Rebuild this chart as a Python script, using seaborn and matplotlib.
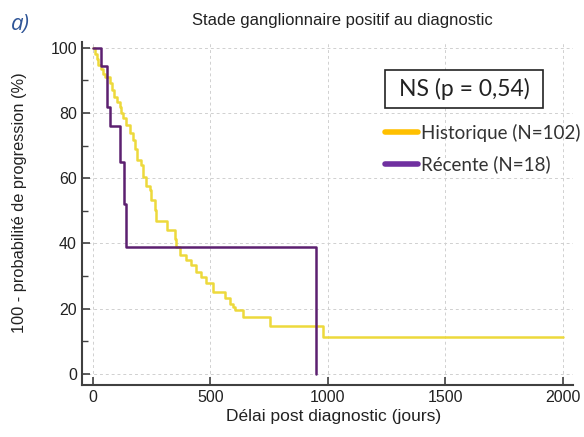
import numpy as np
import pandas as pd
import matplotlib
matplotlib.use("Agg")
import matplotlib.pyplot as plt
import seaborn as sns
from matplotlib.lines import Line2D
from matplotlib.patches import Rectangle
from matplotlib.ticker import MultipleLocator

# Kaplan-Meier steps (time in days, % without progression)
hist_t = [0, 8, 16, 24, 35, 45, 51, 72, 80, 90, 101, 115, 122, 129, 143, 157, 171,
          180, 186, 207, 214, 228, 242, 249, 264, 271, 316, 348, 355, 370, 397, 419,
          440, 462, 483, 512, 562, 585, 597, 605, 640, 753, 981, 2000]
hist_s = [100, 98, 96.5, 94.8, 93.5, 92, 91, 89.2, 87, 85, 83.5, 82, 80, 78.4, 76.4,
          73.8, 71.8, 69, 65.6, 64, 60.5, 57.5, 56.4, 53.4, 50.3, 47, 44, 41.5, 39,
          36.5, 35, 33.4, 31.4, 29.8, 27.8, 25.2, 23.2, 21.5, 20.6, 19.6, 17.6, 14.7,
          11.4, 11.4]
rec_t = [0, 34, 60, 74, 114, 133, 141, 949]
rec_s = [100, 94.4, 82, 76, 65, 52, 39, 0]

groups = ["Historique (N=102)", "Récente (N=18)"]
line_colors = ["#EDD93C", "#5C2070"]
legend_colors = ["#FFC000", "#7030A0"]

df = pd.concat([
    pd.DataFrame({"t": hist_t, "s": hist_s, "groupe": groups[0]}),
    pd.DataFrame({"t": rec_t, "s": rec_s, "groupe": groups[1]}),
])

sns.set_style("white")
plt.rcParams["font.family"] = ["Liberation Sans", "DejaVu Sans"]

fig = plt.figure(figsize=(5.84, 4.37), dpi=100)
ax = fig.add_axes([0.140, 0.119, 0.841, 0.785])

ax.grid(True, which="major", linestyle=(0, (3, 3)), color="#d0d0d0", linewidth=0.7)
for g, c in zip(groups, line_colors):
    sub = df[df["groupe"] == g]
    sns.lineplot(data=sub, x="t", y="s", color=c, linewidth=1.8, estimator=None,
                 sort=False, drawstyle="steps-post", ax=ax, legend=False)

ax.set_xlim(-47, 2043)
ax.set_ylim(-3.4, 101.8)
ax.set_xticks([0, 500, 1000, 1500, 2000])
ax.set_yticks([0, 20, 40, 60, 80, 100])
ax.yaxis.set_minor_locator(MultipleLocator(10))
ax.tick_params(axis="both", which="major", direction="in", length=6, width=1.2,
               color="#404040", labelsize=11.5, labelcolor="#222222")
ax.tick_params(axis="y", which="minor", direction="in", length=4, width=1, color="#404040")
ax.tick_params(axis="y", which="both", left=True)
ax.tick_params(axis="x", which="major", bottom=True)
for side in ["top", "right"]:
    ax.spines[side].set_visible(False)
for side in ["left", "bottom"]:
    ax.spines[side].set_color("#404040")
    ax.spines[side].set_linewidth(1.5)

ax.set_xlabel("Délai post diagnostic (jours)", fontsize=12.5, color="#222222")
ax.set_ylabel("100 - probabilité de progression (%)", fontsize=11.8, color="#222222")
ax.xaxis.set_label_coords(0.513, -0.071)
ax.yaxis.set_label_coords(-0.112, 0.53)

fig.text(0.586, 0.954, "Stade ganglionnaire positif au diagnostic", ha="center",
         va="center", fontsize=12, color="#222222")
fig.text(0.018, 0.945, "a)", ha="left", va="center", fontsize=16, style="italic",
         color="#2F5597", family=["Open Sans", "DejaVu Sans"])

# NS box
fig.patches.append(Rectangle((0.660, 0.753), 0.2705, 0.087, transform=fig.transFigure,
                             facecolor="white", edgecolor="#222222", linewidth=1.2,
                             zorder=5))
fig.text(0.795, 0.796, "NS (p = 0,54)", ha="center", va="center", fontsize=16.5,
         color="#222222", family=["Lato", "DejaVu Sans"], zorder=6)

handles = [Line2D([], [], color=c, linewidth=4) for c in legend_colors]
leg = fig.legend(handles, groups, loc="center left", bbox_to_anchor=(0.660, 0.660),
                 frameon=False, handlelength=1.75, handletextpad=0.15,
                 labelspacing=0.72, borderaxespad=0, borderpad=0,
                 prop={"family": ["Lato", "DejaVu Sans"], "size": 13.5})
for t in leg.get_texts():
    t.set_color("#333333")

fig.savefig("out.png", dpi=100)
